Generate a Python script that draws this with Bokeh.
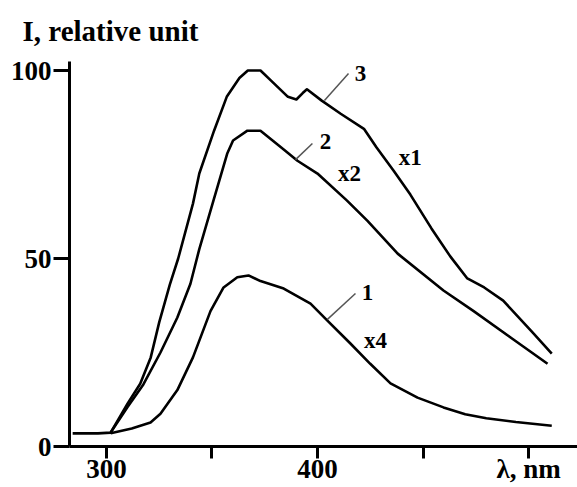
from bokeh.plotting import figure
from bokeh.models import Range1d, FixedTicker, Label
from bokeh.embed import file_html
from bokeh.resources import INLINE

# ---- data ----
wl_3 = [284, 290, 296, 302, 310, 316, 321, 325, 330, 334, 341, 344, 351, 357, 363, 367,
        373, 378, 386, 390, 393, 395, 402, 411, 422, 428, 436, 444, 454, 463, 471, 479,
        488, 502, 511]
i_3 = [3.5, 3.5, 3.5, 3.7, 11.4, 16.7, 23.7, 33, 43, 50, 64.6, 72.6, 84, 93, 98, 100,
       100, 97.3, 93, 92.3, 94, 95, 92, 88.5, 84.5, 79.5, 73.4, 67, 58, 50.5, 44.7, 42.3,
       38.8, 30.3, 24.7]

wl_2 = [302, 310, 317.5, 325.6, 333.6, 339.8, 344, 350.7, 357.3, 360, 366.8, 373, 384,
        390.5, 400, 414, 423.7, 438, 459.7, 474, 491.5, 509]
i_2 = [3.7, 10.5, 16.5, 25.0, 34.3, 43.3, 52.5, 65.4, 78, 81.4, 84, 84, 79, 76, 72.6,
       65.4, 60, 51.3, 41.5, 36, 29, 22]

wl_1 = [302, 312, 320.9, 325.6, 333.6, 341, 349.3, 355.5, 362, 367.3, 373, 384, 396.7,
        404.7, 415.6, 425, 434.6, 447.4, 459.7, 470, 480, 494, 511]
i_1 = [3.5, 4.8, 6.4, 8.7, 15, 23.7, 36, 42.3, 45, 45.5, 44, 42, 38, 33.5, 27.4, 22,
       16.8, 13, 10.4, 8.6, 7.5, 6.5, 5.5]

x_ticks = [300, 350, 400, 450, 500]
x_tick_labels = {300: "300", 350: "", 400: "400", 450: "", 500: "λ, nm"}
y_ticks = [0, 50, 100]

curve_names = ["1", "2", "3"]
curve_factors = ["x4", "x2", "x1"]
name_pos_x = [423.7, 403.8, 420.4]
name_pos_y = [41.0, 81.1, 99.2]
factor_pos_x = [427.5, 415.2, 444.0]
factor_pos_y = [28.2, 72.6, 76.9]
leader_x0 = [404.7, 389.6, 403.3]
leader_y0 = [33.8, 76.3, 92.0]
leader_x1 = [418.0, 397.6, 414.7]
leader_y1 = [40.7, 80.6, 99.2]

FONT = "Liberation Serif"

p = figure(width=577, height=487, output_backend="svg", toolbar_location=None,
           x_range=Range1d(282.5, 523.2), y_range=Range1d(0, 102.4),
           min_border_left=69, min_border_right=0, min_border_top=61, min_border_bottom=41,
           title="I, relative unit")
p.outline_line_color = None
p.xgrid.visible = False
p.ygrid.visible = False
p.background_fill_color = "white"

p.title.text_font = FONT
p.title.text_font_style = "bold"
p.title.text_font_size = "29px"
p.title.align = "left"
p.title.vertical_align = "top"
p.title.offset = -47
p.title.standoff = 26
p.title.text_color = "black"

for ax in (p.xaxis, p.yaxis):
    ax.axis_line_width = 3
    ax.axis_line_color = "black"
    ax.major_tick_line_width = 3
    ax.major_tick_line_color = "black"
    ax.major_tick_in = 0
    ax.minor_tick_line_color = None
    ax.major_label_text_font = FONT
    ax.major_label_text_font_style = "bold"
    ax.major_label_text_font_size = "27px"
    ax.major_label_text_color = "black"

p.xaxis.ticker = FixedTicker(ticks=x_ticks)
p.xaxis.major_label_overrides = x_tick_labels
p.xaxis.major_tick_out = 12
p.xaxis.major_label_standoff = -5
p.yaxis.ticker = FixedTicker(ticks=y_ticks)
p.yaxis.major_tick_out = 16
p.yaxis.major_label_standoff = 2

for wl, inten in ((wl_1, i_1), (wl_2, i_2), (wl_3, i_3)):
    p.line(wl, inten, line_color="black", line_width=2.6, line_join="round")

p.segment(x0=leader_x0, y0=leader_y0, x1=leader_x1, y1=leader_y1,
          line_color="#555555", line_width=1.5)

for k in range(3):
    p.add_layout(Label(x=name_pos_x[k], y=name_pos_y[k], text=curve_names[k],
                       text_font=FONT, text_font_style="bold", text_font_size="23px",
                       text_align="center", text_baseline="middle", text_color="black"))
    p.add_layout(Label(x=factor_pos_x[k], y=factor_pos_y[k], text=curve_factors[k],
                       text_font=FONT, text_font_style="bold", text_font_size="23px",
                       text_align="center", text_baseline="middle", text_color="black"))

open("out.html", "w").write(file_html(p, INLINE))
